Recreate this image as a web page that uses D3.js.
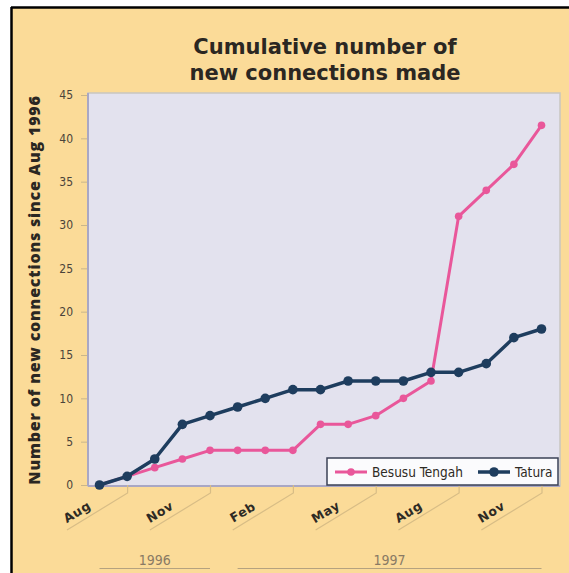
<!DOCTYPE html>
<html><head><meta charset="utf-8">
<script src="https://cdn.jsdelivr.net/npm/d3@7"></script>
<style>
html,body{margin:0;padding:0;background:#fff;}
svg{display:block;}
</style></head>
<body>
<script>
const months = ["Aug 1996","Sep 1996","Oct 1996","Nov 1996","Dec 1996","Jan 1997","Feb 1997","Mar 1997","Apr 1997","May 1997","Jun 1997","Jul 1997","Aug 1997","Sep 1997","Oct 1997","Nov 1997","Dec 1997"];
const besusu = [0,1,2,3,4,4,4,4,7,7,8,10,12,31,34,37,41.5];
const tatura = [0,1,3,7,8,9,10,11,11,12,12,12,13,13,14,17,18];
const xTickMonths = ["Aug 1996","Nov 1996","Feb 1997","May 1997","Aug 1997","Nov 1997"];
const xTickLabels = ["Aug","Nov","Feb","May","Aug","Nov"];
const yTicks = [0,5,10,15,20,25,30,35,40,45];
const years = [{label:"1996",from:"Aug 1996",to:"Dec 1996"},{label:"1997",from:"Jan 1997",to:"Dec 1997"}];
const seriesNames = ["Besusu Tengah","Tatura"];
const titleLines = ["Cumulative number of","new connections made"];
const yTitle = "Number of new connections since Aug 1996";

const W=569,H=573;
const plot={l:88,r:560,t:93,b:486};
const colors={"Besusu Tengah":"#e9579a","Tatura":"#1e3d5e"};

const svg=d3.select("body").append("svg").attr("width",W).attr("height",H);
// background
svg.append("rect").attr("x",0).attr("y",0).attr("width",W).attr("height",H).attr("fill","#fff");
svg.append("rect").attr("x",11).attr("y",7).attr("width",W).attr("height",H).attr("fill","#fbdb98");
svg.append("line").attr("x1",11).attr("x2",W).attr("y1",7.5).attr("y2",7.5).attr("stroke","#000").attr("stroke-width",2.5);
svg.append("line").attr("x1",11.5).attr("x2",11.5).attr("y1",7).attr("y2",H).attr("stroke","#000").attr("stroke-width",2.5);

// title (two separate lines)
svg.append("g").selectAll("text").data(titleLines).join("text")
  .attr("x",325).attr("y",(d,i)=>54+i*26).attr("text-anchor","middle")
  .attr("font-family","'DejaVu Sans', sans-serif").attr("font-weight","bold").attr("font-size",21)
  .attr("fill","#2b2722").text(d=>d);

const x=d3.scalePoint().domain(months).range([99.5,541.5]);
const y=d3.scaleLinear().domain([0,45]).range([485,95]);

// plot area
svg.append("rect").attr("x",plot.l).attr("y",plot.t).attr("width",plot.r-plot.l).attr("height",plot.b-plot.t)
  .attr("fill","#e3e2ee").attr("stroke","#c9c6c0").attr("stroke-width",1.5);
svg.append("line").attr("x1",plot.l).attr("x2",plot.l).attr("y1",plot.t).attr("y2",plot.b).attr("stroke","#a9a7c4").attr("stroke-width",2);
svg.append("line").attr("x1",plot.l).attr("x2",plot.r).attr("y1",plot.b).attr("y2",plot.b).attr("stroke","#a9a7c4").attr("stroke-width",2);

// y axis
const yAxis=svg.append("g").attr("transform",`translate(${plot.l-1},0)`)
  .call(d3.axisLeft(y).tickValues(yTicks).tickSize(6).tickPadding(8));
yAxis.select(".domain").remove();
yAxis.selectAll(".tick line").attr("stroke","#c9b68c");
yAxis.selectAll(".tick text").attr("font-family","'Liberation Sans Narrow','DejaVu Sans Condensed',sans-serif")
  .attr("font-size",12).attr("fill","#4a433a");

// y title
svg.append("text").attr("transform","translate(40,290) rotate(-90)").attr("text-anchor","middle")
  .attr("font-family","'Open Sans', Lato, sans-serif").attr("font-weight",800).attr("font-size",16).attr("fill","#2b2722")
  .attr("letter-spacing",0.8)
  .text(yTitle);

// x axis (rotated labels with slanted brackets)
const xAxis=svg.append("g").attr("transform",`translate(0,${plot.b})`)
  .call(d3.axisBottom(x).tickValues(xTickMonths).tickSize(0).tickFormat((d,i)=>xTickLabels[i]));
xAxis.select(".domain").remove();
xAxis.selectAll(".tick text").attr("text-anchor","middle")
  .attr("transform","translate(-23,26) rotate(-31)").attr("y",0).attr("dy","0.35em")
  .attr("font-family","'DejaVu Sans',sans-serif").attr("font-weight","bold").attr("font-size",12.5)
  .attr("letter-spacing",0.6).attr("fill","#2e2a24");
// brackets
const step=x.step();
xAxis.selectAll(".tick").each(function(d){
  const g=d3.select(this);
  g.append("path").attr("d",`M${-33},${44} L${step},${7} L${step},${-1}`)
   .attr("fill","none").attr("stroke","#d8bd86").attr("stroke-width",1.2);
});

// years
years.forEach(yr=>{
  const x0=x(yr.from), x1=x(yr.to);
  svg.append("text").attr("x",(x0+x1)/2).attr("y",565).attr("text-anchor","middle")
    .attr("font-family","'Liberation Sans Narrow','DejaVu Sans Condensed',sans-serif").attr("font-size",14)
    .attr("fill","#8a7a64").text(yr.label);
  svg.append("line").attr("x1",x0).attr("x2",x1).attr("y1",568.5).attr("y2",568.5).attr("stroke","#b5a27f").attr("stroke-width",1);
});

// lines
const series=[{name:"Besusu Tengah",values:besusu,w:3,r:3.8},{name:"Tatura",values:tatura,w:3.5,r:4.8}];
const line=d3.line().x((d,i)=>x(months[i])).y(d=>y(d));
series.forEach(s=>{
  svg.append("path").datum(s.values).attr("d",line).attr("fill","none")
    .attr("stroke",colors[s.name]).attr("stroke-width",s.w).attr("stroke-linejoin","round");
  svg.append("g").selectAll("circle").data(s.values).join("circle")
    .attr("cx",(d,i)=>x(months[i])).attr("cy",d=>y(d)).attr("r",s.r).attr("fill",colors[s.name]);
});

// legend
const lg=svg.append("g");
lg.append("rect").attr("x",327).attr("y",458).attr("width",231).attr("height",27)
  .attr("fill","#fbfbfd").attr("stroke","#3b4256").attr("stroke-width",1.5);
const items=[{name:"Besusu Tengah",x:335,tx:372},{name:"Tatura",x:478,tx:515}];
items.forEach(it=>{
  const c=colors[it.name];
  lg.append("line").attr("x1",it.x).attr("x2",it.x+32).attr("y1",472).attr("y2",472).attr("stroke",c).attr("stroke-width",it.name==="Tatura"?3.5:3);
  lg.append("circle").attr("cx",it.x+16).attr("cy",472).attr("r",it.name==="Tatura"?4.8:3.8).attr("fill",c);
  lg.append("text").attr("x",it.tx).attr("y",476.5).attr("font-family","'Liberation Sans Narrow','DejaVu Sans Condensed',sans-serif")
    .attr("font-size",13.5).attr("fill","#2e2a24").text(it.name);
});
</script>
</body></html>
